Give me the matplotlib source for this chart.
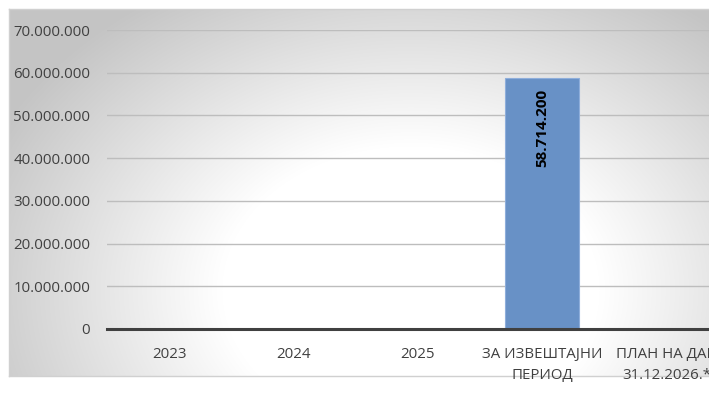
import matplotlib
matplotlib.use("Agg")
import matplotlib.pyplot as plt
from matplotlib.ticker import FuncFormatter
import numpy as np

categories = ["2023", "2024", "2025", "ЗА ИЗВЕШТАЈНИ\nПЕРИОД", "ПЛАН НА ДАН\n31.12.2026.*"]
values = [0, 0, 0, 58714200, 0]
y_ticks = [0, 10000000, 20000000, 30000000, 40000000, 50000000, 60000000, 70000000]

W, H = 709, 409
fig = plt.figure(figsize=(W / 100, H / 100), dpi=100)
fig.patch.set_facecolor("white")
plt.rcParams["font.family"] = ["Open Sans", "DejaVu Sans"]


def dots(v, pos=None):
    return "{:,.0f}".format(v).replace(",", ".")


# chart area with a radial grey-to-white fill (runs past the right edge)
bx0, by0, bx1, by1 = 9, 9, 770, 376
bg = fig.add_axes([bx0 / W, 1 - by1 / H, (bx1 - bx0) / W, (by1 - by0) / H])
xs = np.arange(bx0, bx1)
ys = np.arange(by0, by1)
gx, gy = np.meshgrid(xs, ys)
r = np.sqrt(((gx - 410) / 420.0) ** 2 + ((gy - 290) / 320.0) ** 2)
t = np.clip((r - 0.45) / 0.65, 0, 1)
shade = 1 - 0.23 * t
bg.imshow(np.dstack([shade, shade, shade]), aspect="auto", extent=(0, 1, 0, 1), origin="upper")
bg.set_xticks([])
bg.set_yticks([])
for s in bg.spines.values():
    s.set_color("#d0d0d0")
    s.set_linewidth(1)

# plot area
left, right = 107, 107 + 5 * 124.3
top, bottom = 30, 329
ax = fig.add_axes([left / W, 1 - bottom / H, (right - left) / W, (bottom - top) / H])
ax.patch.set_alpha(0)
x = np.arange(len(categories))
bars = ax.bar(x, values, width=0.6, color="#6891c6", edgecolor="#8eaedb", linewidth=0.8, zorder=3)
ax.set_xlim(-0.5, len(categories) - 0.5)
ax.set_ylim(0, 70000000)
ax.set_yticks(y_ticks)
ax.yaxis.set_major_formatter(FuncFormatter(dots))
ax.set_xticks(x)
ax.set_xticklabels(categories, linespacing=1.5)
ax.tick_params(axis="both", length=0, labelsize=10.8, colors="#404040")
ax.tick_params(axis="y", pad=12)
ax.tick_params(axis="x", pad=13)
ax.grid(axis="y", color="#bdbdbd", linewidth=1, zorder=0)
for name in ["top", "right", "left"]:
    ax.spines[name].set_visible(False)
ax.spines["bottom"].set_color("#404040")
ax.spines["bottom"].set_linewidth(2.2)
ax.spines["bottom"].set_zorder(4)

for b, v in zip(bars, values):
    if v:
        ax.annotate(dots(v), xy=(b.get_x() + b.get_width() / 2, v), xytext=(0, -8),
                    textcoords="offset points", rotation=90, ha="center", va="top",
                    fontsize=11, fontweight="bold", color="black", zorder=5)

fig.savefig("out.png", dpi=100)
